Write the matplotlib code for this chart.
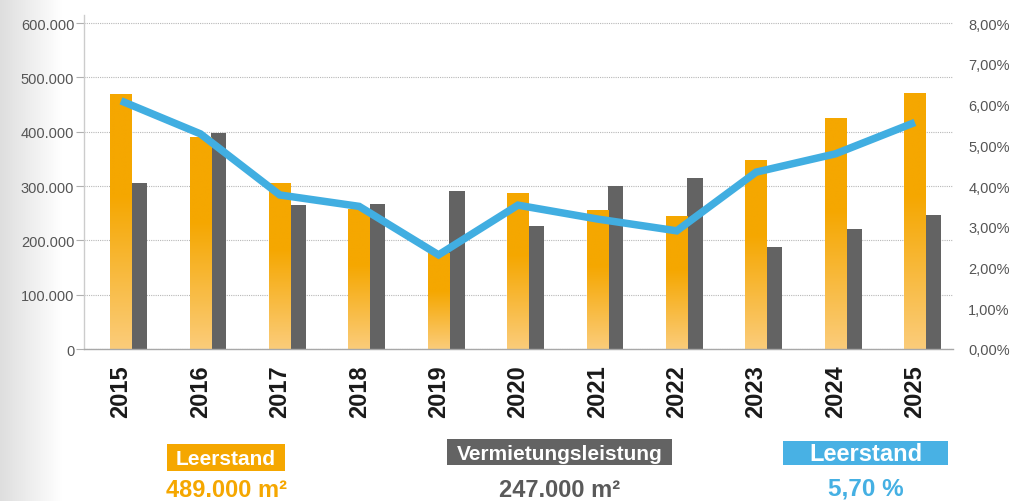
import numpy as np
import matplotlib
matplotlib.use("Agg")
import matplotlib.pyplot as plt
from matplotlib.patches import Rectangle
from matplotlib.ticker import FuncFormatter, FixedLocator

plt.rcParams['font.family'] = ['Liberation Sans', 'DejaVu Sans']

# ---------------- data ----------------
years = ['2015', '2016', '2017', '2018', '2019', '2020', '2021', '2022', '2023', '2024', '2025']
vacancy_m2 = [470000, 390000, 306000, 258000, 177000, 288000, 255000, 244000, 348000, 425000, 471000]
leasing_m2 = [306000, 398000, 265000, 267000, 291000, 227000, 300000, 315000, 188000, 221000, 247000]
vacancy_rate = [6.09, 5.28, 3.78, 3.50, 2.31, 3.53, 3.19, 2.90, 4.34, 4.79, 5.56]
left_ticks = [0, 100000, 200000, 300000, 400000, 500000, 600000]
right_ticks = [0, 1, 2, 3, 4, 5, 6, 7, 8]
legend_labels = ['Leerstand', 'Vermietungsleistung', 'Leerstand']
legend_values = ['489.000 m²', '247.000 m²', '5,70 %']

# ---------------- style ----------------
ORANGE = np.array([245, 167, 0]) / 255
ORANGE_LIGHT = np.array([251, 204, 122]) / 255
GREY = '#636363'
BLUE = '#41AEE1'
BLUE_BOX = '#48B1E4'

W, H = 1015, 502
fig = plt.figure(figsize=(W / 100, H / 100), dpi=100)
fig.patch.set_facecolor('white')

# left background gradient
bg = fig.add_axes([0, 0, 62 / W, 1], zorder=-5)
g = np.linspace(0, 1, 256)
col = np.array([0.87, 0.87, 0.87])[None, :] * (1 - g[:, None]) + np.ones(3)[None, :] * g[:, None]
bg.imshow(col[None, :, :], aspect='auto', extent=(0, 1, 0, 1))
bg.set_axis_off()


def px(x0, y_top, x1, y_bot):
    return [x0 / W, 1 - y_bot / H, (x1 - x0) / W, (y_bot - y_top) / H]


ax = fig.add_axes(px(84, 16, 953, 350))
ax.patch.set_alpha(0)

x = np.arange(len(years))
w_or = 0.27
w_gr = 0.193
off = w_or / 2 + w_gr / 2

bars_or = ax.bar(x, vacancy_m2, width=w_or, color=ORANGE, zorder=2, linewidth=0)
ax.bar(x + off, leasing_m2, width=w_gr, color=GREY, zorder=2, linewidth=0)

# gradient fill for orange bars
f = np.linspace(0, 1, 200)
t = np.clip(f / 0.6, 0, 1)
grad = ORANGE_LIGHT[None, :] * (1 - t[:, None]) + ORANGE[None, :] * t[:, None]
grad_img = grad[:, None, :]
for b in bars_or:
    bx, by, bw, bh = b.get_x(), b.get_y(), b.get_width(), b.get_height()
    im = ax.imshow(grad_img, extent=(bx, bx + bw, by, by + bh), origin='lower',
                   aspect='auto', zorder=2.1, interpolation='bilinear')
    im.set_clip_path(b)

ymax = 600000 * 334 / 326
ax.set_xlim(-0.466, 10.48)
ax.set_ylim(0, ymax)

ax.yaxis.set_major_locator(FixedLocator(left_ticks))
ax.yaxis.set_major_formatter(FuncFormatter(lambda v, p: f"{int(v):,}".replace(',', '.')))
ax.tick_params(axis='y', length=6, width=0.8, color='#b0b0b0', pad=1, labelsize=10.5, labelcolor='#555555')
ax.set_xticks(x)
ax.set_xticklabels(years, rotation=90, fontsize=17, fontweight='bold', color='#1a1a1a', va='top')
ax.tick_params(axis='x', length=0, pad=11)

ax.grid(axis='y', linestyle=(0, (1, 1)), color='#b8b8b8', linewidth=0.8)
ax.set_axisbelow(True)
for s in ['top', 'right']:
    ax.spines[s].set_visible(False)
ax.spines['left'].set_color('#cccccc')
ax.spines['left'].set_linewidth(1.0)
ax.spines['bottom'].set_color('#a8a8a8')
ax.spines['bottom'].set_linewidth(1.0)

ax2 = ax.twinx()
ax2.plot(x, vacancy_rate, color=BLUE, linewidth=5.4, solid_joinstyle='miter', solid_capstyle='butt', zorder=5)
ax2.set_ylim(0, 8 * 334 / 326)
ax2.yaxis.set_major_locator(FixedLocator(right_ticks))
ax2.yaxis.set_major_formatter(FuncFormatter(lambda v, p: f"{v:.2f}".replace('.', ',') + '%'))
ax2.tick_params(axis='y', length=0, pad=11, labelsize=10.5, labelcolor='#555555')
for s in ax2.spines.values():
    s.set_visible(False)

# ---------------- bottom legend boxes ----------------
boxes = [
    dict(rect=(166.7, 445, 285, 471.7), color=ORANGE, cx=226, base=465, fs=15,
         vcol=ORANGE, vbase=497.5, vfs=17),
    dict(rect=(446.7, 440, 672.3, 465.7), color=GREY, cx=559.5, base=460, fs=15,
         vcol='#5a5a5a', vbase=497.5, vfs=17),
    dict(rect=(783.3, 441.7, 947.7, 465.7), color=BLUE_BOX, cx=865.5, base=461.5, fs=17,
         vcol='#45B0E3', vbase=496, vfs=17.5),
]
for b, lab, val in zip(boxes, legend_labels, legend_values):
    x0, y0, x1, y1 = b['rect']
    fig.patches.append(Rectangle((x0 / W, 1 - y1 / H), (x1 - x0) / W, (y1 - y0) / H,
                                 transform=fig.transFigure, facecolor=b['color'],
                                 edgecolor='none', zorder=3))
    fig.text(b['cx'] / W, 1 - b['base'] / H, lab, ha='center', va='baseline',
             fontsize=b['fs'], fontweight='bold', color='white', zorder=4)
    fig.text(b['cx'] / W, 1 - b['vbase'] / H, val, ha='center', va='baseline',
             fontsize=b['vfs'], fontweight='bold', color=b['vcol'], zorder=4)

fig.savefig('out.png', dpi=100)
